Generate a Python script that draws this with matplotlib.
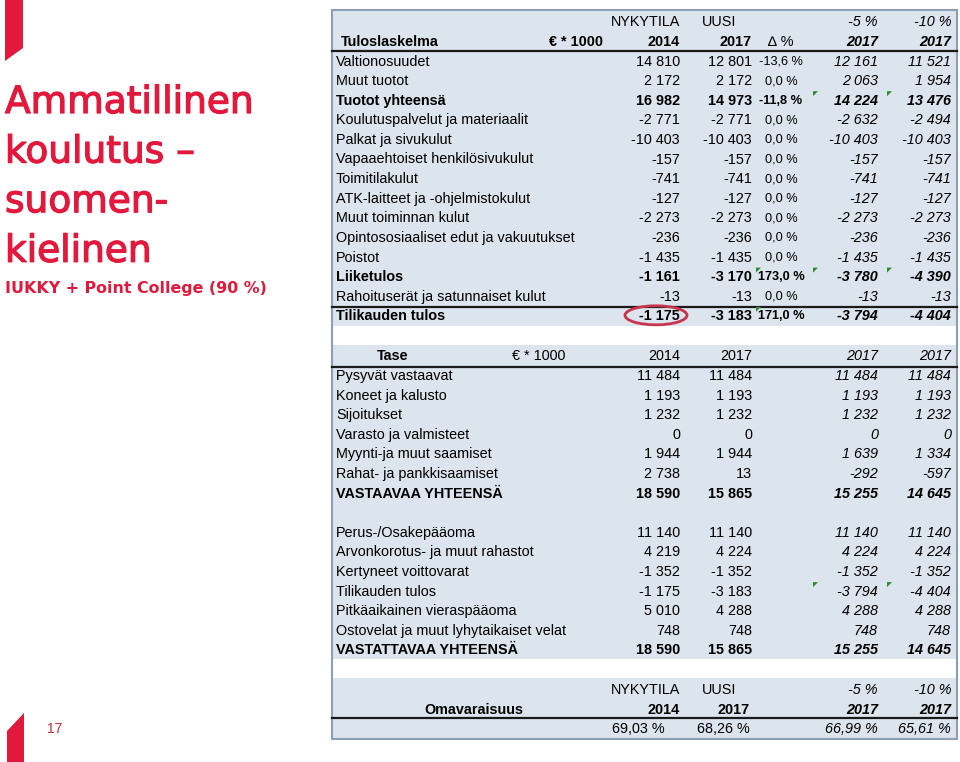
import matplotlib
matplotlib.use("Agg")
import matplotlib.pyplot as plt
from matplotlib.patches import Rectangle, Polygon, Ellipse
import matplotlib.patheffects as pe

# ---------------- data ----------------
title_lines = ["Ammatillinen", "koulutus –", "suomen-", "kielinen"]
subtitle = "IUKKY + Point College (90 %)"
page_number = "17"

scenario_top = ["NYKYTILA", "UUSI", "-5 %", "-10 %"]
year_labels = ["2014", "2017", "2017", "2017"]

income_labels = ["Valtionosuudet", "Muut tuotot", "Tuotot yhteensä",
                 "Koulutuspalvelut ja materiaalit", "Palkat ja sivukulut",
                 "Vapaaehtoiset henkilösivukulut", "Toimitilakulut",
                 "ATK-laitteet ja -ohjelmistokulut", "Muut toiminnan kulut",
                 "Opintososiaaliset edut ja vakuutukset", "Poistot",
                 "Liiketulos", "Rahoituserät ja satunnaiset kulut",
                 "Tilikauden tulos"]
income_2014 = [14810, 2172, 16982, -2771, -10403, -157, -741, -127, -2273,
               -236, -1435, -1161, -13, -1175]
income_2017 = [12801, 2172, 14973, -2771, -10403, -157, -741, -127, -2273,
               -236, -1435, -3170, -13, -3183]
income_delta = [-13.6, 0.0, -11.8, 0.0, 0.0, 0.0, 0.0, 0.0, 0.0, 0.0, 0.0,
                173.0, 0.0, 171.0]
income_m5 = [12161, 2063, 14224, -2632, -10403, -157, -741, -127, -2273,
             -236, -1435, -3780, -13, -3794]
income_m10 = [11521, 1954, 13476, -2494, -10403, -157, -741, -127, -2273,
              -236, -1435, -4390, -13, -4404]
income_bold = [2, 11, 13]

asset_labels = ["Pysyvät vastaavat", "Koneet ja kalusto", "Sijoitukset",
                "Varasto ja valmisteet", "Myynti-ja muut saamiset",
                "Rahat- ja pankkisaamiset", "VASTAAVAA YHTEENSÄ"]
asset_2014 = [11484, 1193, 1232, 0, 1944, 2738, 18590]
asset_2017 = [11484, 1193, 1232, 0, 1944, 13, 15865]
asset_m5 = [11484, 1193, 1232, 0, 1639, -292, 15255]
asset_m10 = [11484, 1193, 1232, 0, 1334, -597, 14645]

liab_labels = ["Perus-/Osakepääoma", "Arvonkorotus- ja muut rahastot",
               "Kertyneet voittovarat", "Tilikauden tulos",
               "Pitkäaikainen vieraspääoma",
               "Ostovelat ja muut lyhytaikaiset velat",
               "VASTATTAVAA YHTEENSÄ"]
liab_2014 = [11140, 4219, -1352, -1175, 5010, 748, 18590]
liab_2017 = [11140, 4224, -1352, -3183, 4288, 748, 15865]
liab_m5 = [11140, 4224, -1352, -3794, 4288, 748, 15255]
liab_m10 = [11140, 4224, -1352, -4404, 4288, 748, 14645]

equity_ratio = [69.03, 68.26, 66.99, 65.61]

# flagged cells (excel green markers): (section, row, column)
flags = [("inc", 2, "m5"), ("inc", 2, "m10"),
         ("inc", 11, "delta"), ("inc", 11, "m5"), ("inc", 11, "m10"),
         ("inc", 13, "delta"),
         ("liab", 3, "m5"), ("liab", 3, "m10")]


def fmt_int(v):
    s = f"{abs(v):,}".replace(",", " ")
    return ("-" if v < 0 else "") + s


def fmt_pct(v, d=1):
    return f"{v:.{d}f}".replace(".", ",") + " %"


# ---------------- layout ----------------
RED = "#e2193c"
BG = "#dce4ee"
BORDER = "#8f9fb3"
GREEN = "#2e8b2e"
X0, X1 = 332, 957
LABEL_X = 336
COLR = {"y14": 680, "y17": 752, "m5": 878, "m10": 951}
DELTA_C = 781
CELL_LEFT = {"delta": 756, "m5": 813, "m10": 887}
STEP = 19.6
TFONT = "Liberation Sans"
FS = 10.4

fig = plt.figure(figsize=(9.6, 7.62), dpi=100)
ax = fig.add_axes([0, 0, 1, 1])
ax.set_xlim(0, 960)
ax.set_ylim(762, 0)
ax.axis("off")


def t(x, y, s, ha="left", bold=False, italic=False, size=FS, family=TFONT,
      color="black"):
    ax.text(x, y, s, ha=ha, va="center", fontsize=size,
            fontweight="bold" if bold else "normal",
            fontstyle="italic" if italic else "normal",
            family=family, color=color)


# ---------------- left side decorations ----------------
ax.add_patch(Polygon([(5, 0), (23, 0), (23, 48), (5, 61)], closed=True,
                     facecolor=RED, edgecolor="none"))
ax.add_patch(Polygon([(7, 731), (24, 713), (24, 762), (7, 762)], closed=True,
                     facecolor=RED, edgecolor="none"))
thick = [pe.withStroke(linewidth=0.9, foreground=RED)]
for i, line in enumerate(title_lines):
    ax.text(5, 113 + i * 49.6, line, ha="left", va="baseline", fontsize=27,
            family="DejaVu Sans", color=RED, path_effects=thick)
ax.text(5, 293, subtitle, ha="left", va="baseline", fontsize=11.4,
        fontweight="bold", family="DejaVu Sans", color=RED)
ax.text(47, 729, page_number, ha="left", va="center", fontsize=10,
        family=TFONT, color="#c8283c")

# ---------------- table backgrounds ----------------
for (ya, yb) in [(10, 326), (345, 659), (678, 739)]:
    ax.add_patch(Rectangle((X0, ya), X1 - X0, yb - ya, facecolor=BG,
                           edgecolor="none", zorder=0))
ax.add_patch(Rectangle((X0, 10), X1 - X0, 729, facecolor="none",
                       edgecolor=BORDER, lw=1.5, zorder=3))
for yl in [51, 306.5, 366.5, 718]:
    ax.plot([X0, X1], [yl, yl], color="#1a1a1a", lw=1.6, zorder=3)

# ---------------- section 1: income statement ----------------
t(COLR["y14"], 22, scenario_top[0], ha="right")
t(702, 22, scenario_top[1], ha="left")
t(COLR["m5"], 22, scenario_top[2], ha="right", italic=True)
t(COLR["m10"], 22, scenario_top[3], ha="right", italic=True)
t(341, 42, "Tuloslaskelma", bold=True)
t(603, 42, "€ * 1000", ha="right", bold=True)
t(COLR["y14"], 42, year_labels[0], ha="right", bold=True)
t(COLR["y17"], 42, year_labels[1], ha="right", bold=True)
t(DELTA_C, 42, "∆ %", ha="center", family=["Liberation Sans", "DejaVu Sans"])
t(COLR["m5"], 42, year_labels[2], ha="right", bold=True, italic=True)
t(COLR["m10"], 42, year_labels[3], ha="right", bold=True, italic=True)

inc_y = [61.5 + i * STEP for i in range(len(income_labels))]
for i, lab in enumerate(income_labels):
    y = inc_y[i]
    b = i in income_bold
    t(LABEL_X, y, lab, bold=b)
    t(COLR["y14"], y, fmt_int(income_2014[i]), ha="right", bold=b)
    t(COLR["y17"], y, fmt_int(income_2017[i]), ha="right", bold=b)
    t(DELTA_C, y, fmt_pct(income_delta[i]), ha="center", bold=b, size=9.2)
    t(COLR["m5"], y, fmt_int(income_m5[i]), ha="right", bold=b, italic=True)
    t(COLR["m10"], y, fmt_int(income_m10[i]), ha="right", bold=b, italic=True)

# highlight ellipse around 2014 result
ax.add_patch(Ellipse((COLR["y14"] - 24, inc_y[13] - 1), 62, 19,
                     facecolor="none", edgecolor="#c9344c", lw=2, zorder=4))

# ---------------- section 2: balance sheet ----------------
t(393, 356, "Tase", ha="center", bold=True)
t(512, 356, "€ * 1000", ha="left")
t(COLR["y14"], 356, year_labels[0], ha="right")
t(COLR["y17"], 356, year_labels[1], ha="right")
t(COLR["m5"], 356, year_labels[2], ha="right", italic=True)
t(COLR["m10"], 356, year_labels[3], ha="right", italic=True)

asset_y = [376 + i * STEP for i in range(len(asset_labels))]
for i, lab in enumerate(asset_labels):
    y = asset_y[i]
    b = i == len(asset_labels) - 1
    t(LABEL_X, y, lab, bold=b)
    t(COLR["y14"], y, fmt_int(asset_2014[i]), ha="right", bold=b)
    t(COLR["y17"], y, fmt_int(asset_2017[i]), ha="right", bold=b)
    t(COLR["m5"], y, fmt_int(asset_m5[i]), ha="right", bold=b, italic=True)
    t(COLR["m10"], y, fmt_int(asset_m10[i]), ha="right", bold=b, italic=True)

liab_y = [532.8 + i * STEP for i in range(len(liab_labels))]
for i, lab in enumerate(liab_labels):
    y = liab_y[i]
    b = i == len(liab_labels) - 1
    t(LABEL_X, y, lab, bold=b)
    t(COLR["y14"], y, fmt_int(liab_2014[i]), ha="right", bold=b)
    t(COLR["y17"], y, fmt_int(liab_2017[i]), ha="right", bold=b)
    t(COLR["m5"], y, fmt_int(liab_m5[i]), ha="right", bold=b, italic=True)
    t(COLR["m10"], y, fmt_int(liab_m10[i]), ha="right", bold=b, italic=True)

# ---------------- section 3: equity ratio ----------------
t(COLR["y14"], 690, scenario_top[0], ha="right")
t(702, 690, scenario_top[1], ha="left")
t(COLR["m5"], 690, scenario_top[2], ha="right", italic=True)
t(COLR["m10"], 690, scenario_top[3], ha="right", italic=True)
t(474, 710, "Omavaraisuus", ha="center", bold=True)
t(COLR["y14"], 710, year_labels[0], ha="right", bold=True)
t(COLR["y17"] - 2, 710, year_labels[1], ha="right", bold=True)
t(COLR["m5"], 710, year_labels[2], ha="right", bold=True, italic=True)
t(COLR["m10"], 710, year_labels[3], ha="right", bold=True, italic=True)
eq_x = [COLR["y14"] - 15, COLR["y17"] - 2, COLR["m5"], COLR["m10"]]
for j, v in enumerate(equity_ratio):
    t(eq_x[j], 729, fmt_pct(v, 2), ha="right", italic=j >= 2)

# ---------------- green flags ----------------
row_lookup = {"inc": inc_y, "liab": liab_y}
for sec, r, col in flags:
    xl = CELL_LEFT[col]
    yt = row_lookup[sec][r] - 9.5
    ax.add_patch(Polygon([(xl, yt), (xl + 5, yt), (xl, yt + 5)], closed=True,
                         facecolor=GREEN, edgecolor="none", zorder=5))

fig.savefig("out.png", dpi=100)
